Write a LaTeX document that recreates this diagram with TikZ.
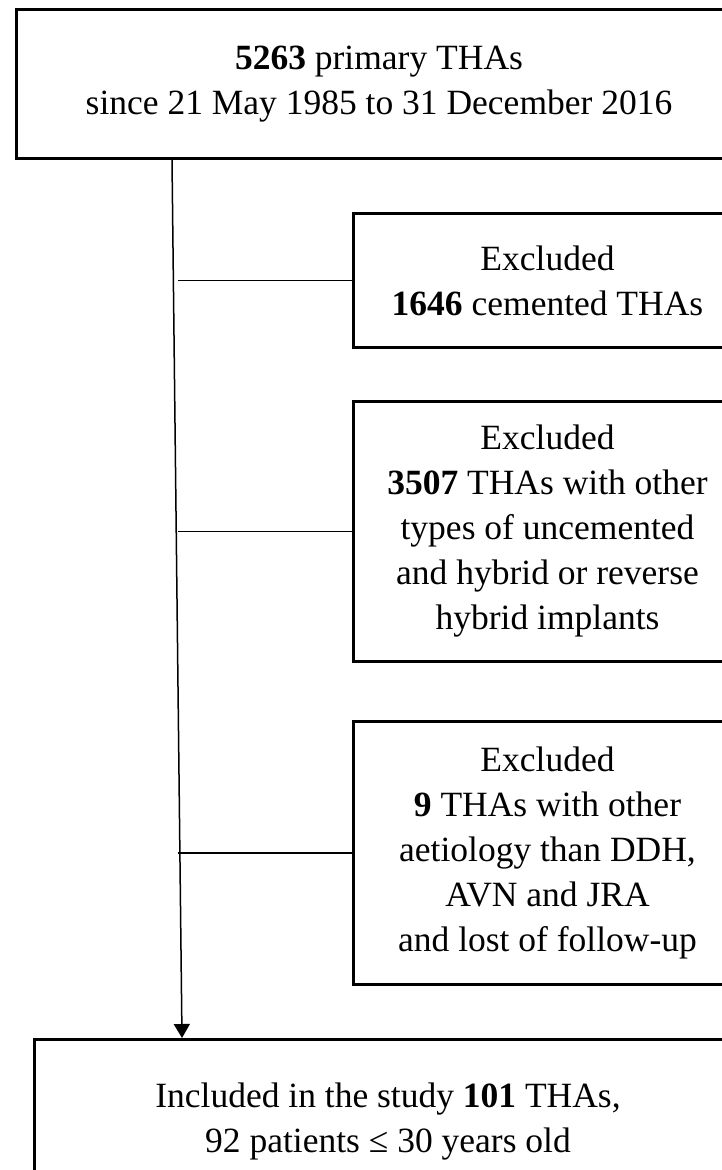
\documentclass[tikz,border=0pt]{standalone}
\usepackage{fontspec}
\setmainfont{Liberation Serif}
\usetikzlibrary{arrows.meta,positioning}

\begin{document}
\begin{tikzpicture}[
    x=1pt, y=-1pt,
    every node/.style={font=\fontsize{35.5}{45}\selectfont},
    box/.style={rectangle, draw, line width=3pt, align=center, inner sep=0pt},
    mainbox/.style={box, minimum width=725pt},
    exclbox/.style={box, minimum width=388pt},
    arrow/.style={line width=1.5pt, -{Triangle[length=14pt, width=16pt]}},
    branch/.style={line width=1.5pt}
  ]
  \useasboundingbox (0,0) rectangle (721,1170);

  % Source cohort
  \node[mainbox, minimum height=149pt, anchor=north west] (total) at (15,8) {\textbf{5263} primary THAs\\since 21 May 1985 to 31 December 2016};

  % Exclusions
  \node[exclbox, minimum height=134pt, anchor=north west] (cemented) at (352,212) {Excluded\\\textbf{1646} cemented THAs};
  \node[exclbox, minimum height=260pt, below=51pt of cemented] (uncemented) {Excluded\\\textbf{3507} THAs with other\\types of uncemented\\and hybrid or reverse\\hybrid implants};
  \node[exclbox, minimum height=263pt, below=57pt of uncemented] (aetiology) {Excluded\\\textbf{9} THAs with other\\aetiology than DDH,\\AVN and JRA\\and lost of follow-up};

  % Study group
  \node[mainbox, minimum width=707pt, minimum height=164pt, anchor=north west] (included) at (33,1038) {Included in the study \textbf{101} THAs,\\92 patients ≤ 30 years old};

  % Flow line
  \coordinate (trunktop) at ([xshift=157pt]total.south west);
  \coordinate (trunkend) at ([xshift=149pt]included.north west);
  \coordinate (branchx) at (178,0);
  \draw[arrow] (trunktop) -- (trunkend);

  % Branches to exclusions
  \draw[branch] (cemented.west) -- (cemented.west -| branchx);
  \draw[branch] (uncemented.west) -- (uncemented.west -| branchx);
  \draw[branch] (aetiology.west) -- (aetiology.west -| branchx);

\end{tikzpicture}
\end{document}
